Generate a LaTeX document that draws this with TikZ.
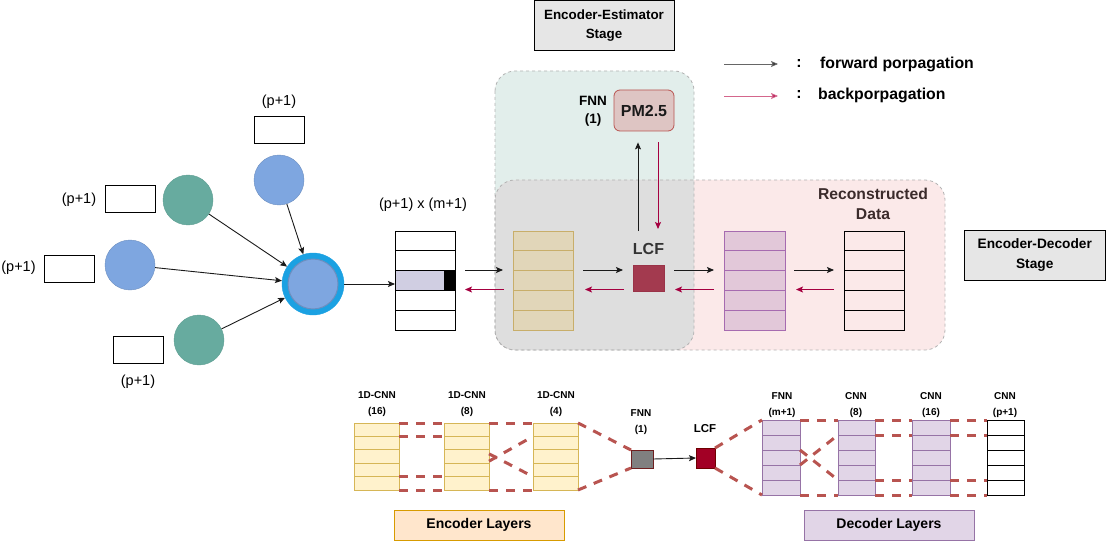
\documentclass[tikz,border=0pt]{standalone}
\usepackage{fontspec}
\setmainfont{Liberation Sans}
\usetikzlibrary{calc,arrows.meta}
\definecolor{arrblack}{HTML}{1A1A1A}
\definecolor{arrred}{HTML}{A50040}
\definecolor{legred}{HTML}{D4668C}
\definecolor{leggrey}{HTML}{666666}
\definecolor{cblue}{HTML}{7EA6E0}
\definecolor{cblueb}{HTML}{6C8EBF}
\definecolor{cgreen}{HTML}{67AB9F}
\definecolor{cgreenb}{HTML}{5E9E92}
\definecolor{bigblue}{HTML}{1BA1E2}
\definecolor{lav}{HTML}{D0CEE2}
\definecolor{lavb}{HTML}{56517E}
\definecolor{tealreg}{HTML}{E2EEEB}
\definecolor{pinkreg}{HTML}{FBE9E9}
\definecolor{greyreg}{HTML}{DEDEDE}
\definecolor{regb}{HTML}{B3B3B3}
\definecolor{yfillA}{HTML}{E1D6B9}
\definecolor{ybordA}{HTML}{C8AE6A}
\definecolor{pfillA}{HTML}{E2C8D9}
\definecolor{pbordA}{HTML}{A66BB0}
\definecolor{lcfA}{HTML}{A33A4F}
\definecolor{lcfAb}{HTML}{9A3348}
\definecolor{pmfill}{HTML}{DEC5C3}
\definecolor{pmb}{HTML}{B85450}
\definecolor{dashc}{HTML}{B85450}
\definecolor{yfill}{HTML}{FFF2CC}
\definecolor{ybord}{HTML}{D6B656}
\definecolor{pfill}{HTML}{E1D5E7}
\definecolor{pbord}{HTML}{9673A6}
\definecolor{encfill}{HTML}{FFE6CC}
\definecolor{encb}{HTML}{D79B00}
\definecolor{stagefill}{HTML}{E6E6E6}
\definecolor{lcfB}{HTML}{A20025}
\definecolor{lcfBb}{HTML}{6F0000}
\definecolor{fnnfill}{HTML}{808080}
\definecolor{fnnb}{HTML}{6F1F1F}
\definecolor{darktxt}{HTML}{333333}
\definecolor{rectxt}{HTML}{3B2B2B}
\begin{document}
\begin{tikzpicture}[x=1pt,y=-1pt,
  fwd/.style={draw=arrblack,line width=0.9pt,-{Stealth[length=7pt,width=6pt,inset=1.5pt]}},
  bwd/.style={fwd,draw=arrred},
  txt/.style={font=\fontsize{14.5}{16}\selectfont,inner sep=0pt},
  bten/.style={font=\bfseries\fontsize{10}{16}\selectfont,inner sep=0pt,align=center},
  btwelve/.style={font=\bfseries\fontsize{13.5}{18}\selectfont,inner sep=0pt,align=center},
  bfourteen/.style={font=\bfseries\fontsize{15.8}{20}\selectfont,inner sep=0pt,align=center},
  stk/.style={rectangle,inner sep=0pt,outer sep=0pt},
  inbox/.style={rectangle,draw=black,line width=0.8pt,minimum width=50pt,minimum height=27pt,inner sep=0pt},
  incirc/.style={circle,minimum size=50pt,inner sep=0pt},
  region/.style={draw=regb,dashed,line width=0.8pt,rounded corners=20pt},
  dl/.style={draw=dashc,line width=3pt,dash pattern=on 9pt off 8pt},
  stagebox/.style={rectangle,draw=black,fill=stagefill,line width=0.8pt,inner sep=0pt},
]
\useasboundingbox (0,0) rectangle (1106,559);

% ---------- regions ----------
\fill[tealreg,rounded corners=20pt] (495,71) rectangle (694,350);
\fill[pinkreg,rounded corners=20pt] (495,180) rectangle (945,350);
\begin{scope}
  \clip[rounded corners=20pt] (495,71) rectangle (694,350);
  \fill[greyreg,rounded corners=20pt] (495,180) rectangle (945,350);
\end{scope}
\draw[region] (495,71) rectangle (694,350);
\draw[region] (495,180) rectangle (945,350);

% ---------- stage boxes ----------
\node[stagebox,minimum width=140pt,minimum height=49.5pt] (ees) at (604,25.25) {};
\node[btwelve,font=\bfseries\fontsize{13.4}{19}\selectfont] (eestxt) at (ees.center) {Encoder-Estimator\\Stage};
\node[stagebox,minimum width=141.5pt,minimum height=50pt] (eds) at (1034.75,255) {};
\node[btwelve,font=\bfseries\fontsize{13.7}{20}\selectfont] (edstxt) at (eds.center) {Encoder-Decoder\\Stage};

% ---------- legend ----------
\coordinate (la1) at (724,64); \coordinate (la2) at (778,64);
\coordinate (lb1) at (724,96); \coordinate (lb2) at (778,96);
\draw[fwd,draw=leggrey,-{Stealth[length=7pt,width=6pt,inset=1.5pt,fill=arrblack]}] (la1) -- (la2);
\draw[fwd,draw=legred,-{Stealth[length=7pt,width=6pt,inset=1.5pt,fill=arrred]}] (lb1) -- (lb2);
\node[bfourteen] (lc1) at (799,64) {:};
\node[bfourteen] (lc2) at (799,95) {:};
\node[bfourteen,anchor=west] (lt1) at (820,64) {forward porpagation};
\node[bfourteen,anchor=west] (lt2) at (818,95) {backporpagation};

% ---------- input circles ----------
\node[incirc,fill=cblue,draw=cblueb] (c1) at (279,180) {};
\node[incirc,fill=cgreen,draw=cgreenb] (c2) at (188,200) {};
\node[incirc,fill=cblue,draw=cblueb] (c3) at (130,265) {};
\node[incirc,fill=cgreen,draw=cgreenb] (c4) at (199,340) {};
\node[circle,minimum size=62pt,inner sep=0pt,fill=bigblue,draw=bigblue] (bc) at (313,284) {};
\node[circle,minimum size=50pt,inner sep=0pt,fill=cblue,draw=cblueb,line width=1pt] (bci) at (313,284) {};

\node[inbox] (b1) at (279,129.5) {};
\node[inbox] (b2) at (130,199) {};
\node[inbox] (b3) at (69,269) {};
\node[inbox] (b4) at (138,349.5) {};
\node[txt] (l1) at (279,102) {(p+1)};
\node[txt] (l2) at (79,200) {(p+1)};
\node[txt] (l3) at (18.5,268) {(p+1)};
\node[txt] (l4) at (138,382) {(p+1)};

\draw[fwd] (c1) -- (bc);
\draw[fwd] (c2) -- (bc);
\draw[fwd] (c3) -- (bc);
\draw[fwd] (c4) -- (bc);

% ---------- input matrix ----------
\fill[lav] (395,270.6) rectangle (444,290.4);
\draw[lavb,line width=0.8pt] (395,270.6) -- (444,270.6);
\fill[black] (444,270.6) rectangle (455,290.4);
\node[stk,draw=black,line width=0.8pt,minimum width=60pt,minimum height=99pt] (s0) at (425,280.5) {};
\node[txt] (s0l) at (423,205) {(p+1) x (m+1)};
\draw[fwd] (bc.east) -- (bc.east -| s0.west);

% ---------- upper stacks ----------
\node[stk,fill=yfillA,draw=ybordA,line width=0.8pt,minimum width=60pt,minimum height=99pt] (ys) at (543,280.5) {};
\node[stk,fill=pfillA,draw=pbordA,line width=0.8pt,minimum width=61pt,minimum height=99pt] (ps) at (754.5,280.5) {};
\node[stk,draw=black,line width=0.8pt,minimum width=60pt,minimum height=99pt] (ws) at (874,280.5) {};
\foreach \s/\c in {s0/black,ys/ybordA,ps/pbordA,ws/black}
  \foreach \i in {1,...,4}
    \draw[\c,line width=0.8pt] ($(\s.north west)!\i/5!(\s.south west)$) -- ($(\s.north east)!\i/5!(\s.south east)$);

\node[stk,fill=lcfA,draw=lcfAb,minimum width=31pt,minimum height=26pt] (lc) at (648.5,278) {};
\node[bfourteen,font=\bfseries\fontsize{16}{18}\selectfont,text=darktxt] (lcl) at (648.5,249) {LCF};

\node[rectangle,rounded corners=6pt,fill=pmfill,draw=pmb,line width=0.8pt,minimum width=60pt,minimum height=41pt,inner sep=0pt,font=\bfseries\fontsize{16}{18}\selectfont,text=arrblack] (pm) at (644,110.5) {PM2.5};
\node[btwelve] (fnnu) at (593,111.5) {FNN\\(1)};

\node[bfourteen,font=\bfseries\fontsize{15.7}{20}\selectfont,text=rectxt] (rec) at (873,204) {Reconstructed\\Data};

% arrows of the upper pipeline
\coordinate (fy) at (0,270);
\coordinate (by) at (0,289.5);
\draw[fwd] ($(s0.east |- fy)+(10,0)$) -- ($(ys.west |- fy)+(-10,0)$);
\draw[bwd] ($(ys.west |- by)+(-9,0)$) -- ($(s0.east |- by)+(10,0)$);
\draw[fwd] ($(ys.east |- fy)+(10,0)$) -- ($(lc.west |- fy)+(-10,0)$);
\draw[bwd] ($(lc.west |- by)+(-9,0)$) -- ($(ys.east |- by)+(12,0)$);
\draw[fwd] ($(lc.east |- fy)+(10,0)$) -- ($(ps.west |- fy)+(-10,0)$);
\draw[bwd] ($(ps.west |- by)+(-10,0)$) -- ($(lc.east |- by)+(11,0)$);
\draw[fwd] ($(ps.east |- fy)+(9,0)$) -- ($(ws.west |- fy)+(-10,0)$);
\draw[bwd] ($(ws.west |- by)+(-10,0)$) -- ($(ps.east |- by)+(11,0)$);
\coordinate (upstart) at (638,231);
\coordinate (dnend) at (658,229);
\draw[fwd] (upstart) -- ($(pm.south)+(-6,11)$);
\draw[bwd] ($(pm.south)+(14,11)$) -- (dnend);

% ---------- bottom: encoder / decoder layers ----------
\node[stk,fill=yfill,draw=ybord,line width=0.8pt,minimum width=45pt,minimum height=67pt] (e1) at (376.5,456.5) {};
\node[stk,fill=yfill,draw=ybord,line width=0.8pt,minimum width=45pt,minimum height=67pt] (e2) at (466.5,456.5) {};
\node[stk,fill=yfill,draw=ybord,line width=0.8pt,minimum width=45pt,minimum height=67pt] (e3) at (555.5,456.5) {};
\node[stk,fill=pfill,draw=pbord,line width=0.8pt,minimum width=38pt,minimum height=75pt] (d1) at (781,457.5) {};
\node[stk,fill=pfill,draw=pbord,line width=0.8pt,minimum width=37pt,minimum height=75pt] (d2) at (856.5,457.5) {};
\node[stk,fill=pfill,draw=pbord,line width=0.8pt,minimum width=38pt,minimum height=75pt] (d3) at (931,457.5) {};
\node[stk,draw=black,line width=0.8pt,minimum width=37pt,minimum height=75pt] (w) at (1005.5,457.5) {};
\foreach \s/\c in {e1/ybord,e2/ybord,e3/ybord,d1/pbord,d2/pbord,d3/pbord,w/black}
  \foreach \i in {1,...,4}
    \draw[\c,line width=0.8pt] ($(\s.north west)!\i/5!(\s.south west)$) -- ($(\s.north east)!\i/5!(\s.south east)$);

\node[stk,fill=fnnfill,draw=fnnb,line width=0.8pt,minimum width=22pt,minimum height=18pt] (fn) at (642,459) {};
\node[stk,fill=lcfB,draw=lcfBb,line width=0.5pt,minimum width=19pt,minimum height=20pt] (lcb) at (705.5,458) {};
\draw[fwd] (fn.east) -- (lcb.west);

% dashed connections
\foreach \a/\b/\p/\q in {e1/e2/0/0,e1/e2/0.2/0.2,e1/e2/0.8/0.8,e1/e2/1/1,
                         e2/e3/0/0,e2/e3/1/1,e2/e3/0.46/0.8,e2/e3/0.57/0.2,
                         d1/d2/0/0,d1/d2/1/1,d1/d2/0.4/0.8,d1/d2/0.6/0.2,
                         d2/d3/0/0,d2/d3/0.2/0.2,d2/d3/0.8/0.8,d2/d3/1/1,
                         d3/w/0/0,d3/w/0.2/0.2,d3/w/0.8/0.8,d3/w/1/1}
  \draw[dl] ($(\a.north east)!\p!(\a.south east)$) -- ($(\b.north west)!\q!(\b.south west)$);
\draw[dl] (e3.north east) -- (fn.north west);
\draw[dl] (e3.south east) -- (fn.south west);
\draw[dl] (lcb.north east) -- (d1.north west);
\draw[dl] (lcb.south east) -- (d1.south west);

% labels
\node[bten] (e1l) at (377,404) {1D-CNN\\(16)};
\node[bten] (e2l) at (467,404) {1D-CNN\\(8)};
\node[bten] (e3l) at (556,404) {1D-CNN\\(4)};
\node[bten] (fnl) at (641,422) {FNN\\(1)};
\node[bten,font=\bfseries\fontsize{11.5}{16}\selectfont] (lcbl) at (705,429) {LCF};
\node[bten] (d1l) at (782,405.5) {FNN\\(m+1)};
\node[bten] (d2l) at (856,405.5) {CNN\\(8)};
\node[bten] (d3l) at (931,405.5) {CNN\\(16)};
\node[bten] (wl) at (1005,405.5) {CNN\\(p+1)};

\node[rectangle,fill=encfill,draw=encb,line width=0.8pt,minimum width=170pt,minimum height=30pt,inner sep=0pt,font=\bfseries\fontsize{14}{16}\selectfont] (encl) at (479,525) {Encoder Layers};
\node[rectangle,fill=pfill,draw=pbord,line width=0.8pt,minimum width=170pt,minimum height=30pt,inner sep=0pt,font=\bfseries\fontsize{14}{16}\selectfont] (decl) at (889,525) {Decoder Layers};
\end{tikzpicture}
\end{document}
